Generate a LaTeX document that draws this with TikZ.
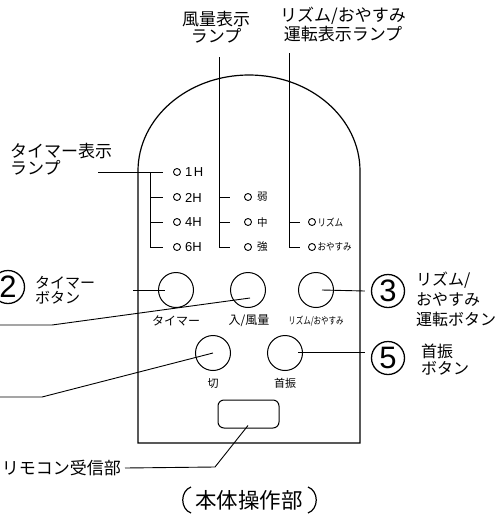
\documentclass[tikz,border=0pt]{standalone}
\usepackage{fontspec}
\setmainfont{Noto Sans CJK JP}
\newfontfamily\latinsans{Liberation Sans}
\usetikzlibrary{calc}
\begin{document}
\begin{tikzpicture}[x=1pt,y=-1pt,
  panel/.style={line width=1.2pt},
  lead/.style={line width=0.9pt},
  lamp/.style={circle,draw,line width=0.9pt,minimum size=7pt,inner sep=0pt},
  lamptxt/.style={anchor=west,inner sep=0pt,font=\latinsans\fontsize{13}{13}\selectfont},
  lampjp/.style={anchor=west,inner sep=0pt,font=\fontsize{10.5}{11}\selectfont},
  btn/.style={circle,draw,line width=1pt,minimum size=35pt,inner sep=0pt},
  btntxt/.style={inner sep=0pt,font=\fontsize{12}{12}\selectfont},
  num/.style={circle,draw,line width=1.3pt,minimum size=33pt,inner sep=0pt,font=\latinsans\fontsize{31}{31}\selectfont},
  biglbl/.style={inner sep=0pt,font=\fontsize{17}{17}\selectfont,align=center},
  sidelbl/.style={inner sep=0pt,anchor=west,align=left,font=\fontsize{16}{20}\selectfont}
]
\useasboundingbox (0,0) rectangle (499,515);

% panel outline
\draw[panel] (138,443) -- (138,171) arc[start angle=180,end angle=360,x radius=111,y radius=96] -- (360,443) -- cycle;

% top labels
\node[biglbl] (windlbl) at (216,27) {風量表示\\ランプ};
\node[biglbl] (rhylbl) at (343,24.5) {リズム/おやすみ\\運転表示ランプ};
\node[biglbl,anchor=west,align=left] (timlbl) at (10,159.5) {タイマー表示\\ランプ};

% timer lamps
\coordinate (tl) at (98,172);
\coordinate (tj) at (150,172);
\draw[lead] (tl) -- (163,172);
\draw[lead] (tj) -- (150,247) -- (163,247);
\draw[lead] (150,197) -- (163,197);
\draw[lead] (150,222) -- (163,222);
\node[lamp] (t1) at (177,172) {};
\node[lamp] (t2) at (177,197) {};
\node[lamp] (t3) at (177,222) {};
\node[lamp] (t4) at (177,247) {};
\node[lamptxt] at ($(t1.east)+(4,0.5)$) {1\kern1.5pt H};
\node[lamptxt] at ($(t2.east)+(4,0.5)$) {2H};
\node[lamptxt] at ($(t3.east)+(4,0.5)$) {4H};
\node[lamptxt] at ($(t4.east)+(4,0.5)$) {6H};

% wind lamps
\coordinate (wtop) at (219,57);
\draw[lead] (wtop) -- (219,247) -- (230,247);
\draw[lead] (219,197) -- (230,197);
\draw[lead] (219,222) -- (230,222);
\node[lamp] (w1) at (248,197) {};
\node[lamp] (w2) at (248,222) {};
\node[lamp] (w3) at (248,247) {};
\node[lampjp] at ($(w1.east)+(5,0)$) {弱};
\node[lampjp] at ($(w2.east)+(5,0)$) {中};
\node[lampjp] at ($(w3.east)+(5,0)$) {強};

% rhythm lamps
\coordinate (rtop) at (289,53);
\draw[lead] (rtop) -- (289,247) -- (300,247);
\draw[lead] (289,222) -- (300,222);
\node[lamp] (r1) at (312,222) {};
\node[lamp] (r2) at (312,247) {};
\node[lampjp,xscale=0.85,font=\fontsize{10}{10}\selectfont] at ($(r1.east)+(1.5,0)$) {リズム};
\node[lampjp,xscale=0.85,font=\fontsize{10}{10}\selectfont] at ($(r2.east)+(1.5,0)$) {おやすみ};

% buttons
\node[btn] (bt) at (176,290) {};
\node[btn] (bw) at (248,290) {};
\node[btn] (br) at (316,290) {};
\node[btn] (boff) at (213,353) {};
\node[btn] (bsw) at (285,353) {};
\node[btntxt] at (176,321) {タイマー};
\node[btntxt] at (249,321) {入/風量};
\node[btntxt,xscale=0.75,font=\fontsize{10}{10}\selectfont] at (316,321) {リズム/おやすみ};
\node[btntxt,font=\fontsize{11}{11}\selectfont] at (213,383) {切};
\node[btntxt,font=\fontsize{11}{11}\selectfont] at (285,383) {首振};

% remote receiver
\node[draw,line width=1pt,rounded corners=6pt,minimum width=61pt,minimum height=28pt,inner sep=0pt] (rx) at (248.5,414) {};
\node[inner sep=0pt,anchor=east,font=\fontsize{17}{17}\selectfont] (rxlbl) at (121,468) {リモコン受信部};
\draw[lead] (rxlbl.east) ++(4,0) -- (215,467) -- ($(rx.south)+(-0.5,-3)$);

% circled numbers and side labels
\node[num] (n2) at (8,287) {2};
\node[sidelbl,font=\fontsize{15}{15}\selectfont] (l2) at (35,290.5) {タイマー\\ボタン};
\node[num] (n3) at (388,291) {3};
\node[sidelbl] (l3) at (416,299) {リズム/\\おやすみ\\運転ボタン};
\node[num] (n5) at (388,358) {5};
\node[sidelbl,font=\fontsize{16}{17}\selectfont] (l5) at (421,359.5) {首振\\ボタン};

% leaders
\coordinate (lt) at (133,290);
\draw[lead] (lt) -- ($(bt.center)+(-11,0)$);
\coordinate (lw) at (0,325);
\draw[lead] (lw) -- (52,325) -- ($(bw.center)+(2,8)$);
\coordinate (lo) at (0,397);
\draw[lead] (lo) -- (42,397) -- (boff.center);
\draw[lead] ($(br.center)+(6,0)$) -- ($(n3.west)+(-6,0)$);
\draw[lead] ($(bsw.center)+(13,-1)$) -- ($(n5.west)+(-6,-6)$);

% body label
\node[inner sep=0pt,font=\fontsize{21.5}{21.5}\selectfont] (body) at (249,500) {本体操作部};
\draw[line width=1.2pt] (191,487) .. controls (180,491) and (180,509) .. (191,513);
\draw[line width=1.2pt] (308,487) .. controls (319,491) and (319,509) .. (308,513);
\end{tikzpicture}
\end{document}
